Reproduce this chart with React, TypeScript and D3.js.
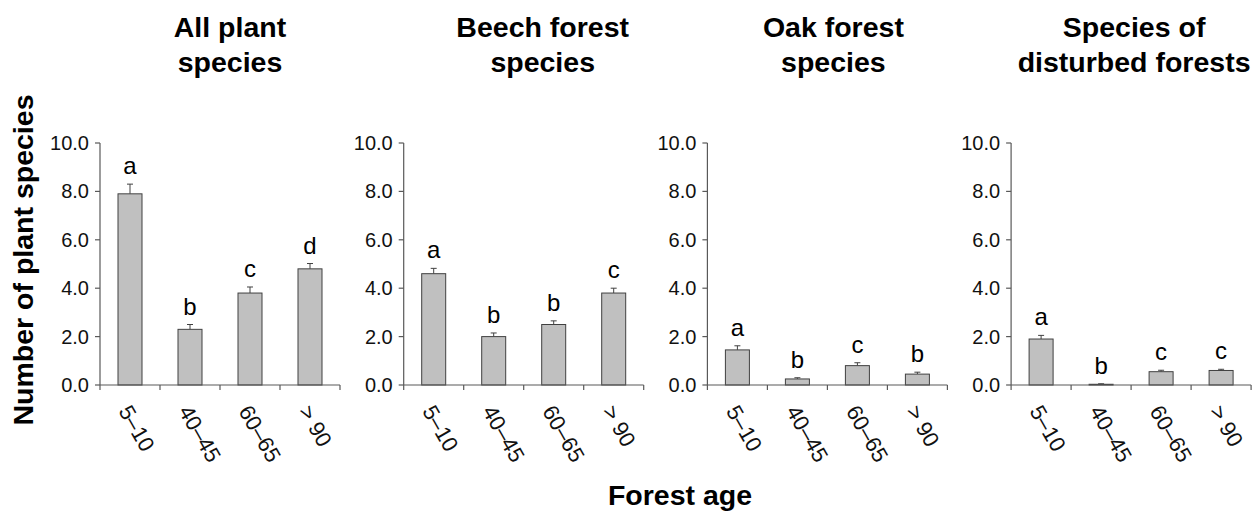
import React from 'react';
import * as d3 from 'd3';

// Forest age classes (years) on the x axis of every panel
const ageClasses = ['5–10', '40–45', '60–65', '> 90'];

// Panel headings, two lines each
const panelTitles = [
  ['All plant', 'species'],
  ['Beech forest', 'species'],
  ['Oak forest', 'species'],
  ['Species of', 'disturbed forests'],
];

// Mean number of species per plot, standard error and significance group
const allSpecies = [7.9, 2.3, 3.8, 4.8];
const allSpeciesSE = [0.4, 0.2, 0.25, 0.22];
const allSpeciesGroups = ['a', 'b', 'c', 'd'];

const beechSpecies = [4.6, 2.0, 2.5, 3.8];
const beechSpeciesSE = [0.22, 0.15, 0.15, 0.2];
const beechSpeciesGroups = ['a', 'b', 'b', 'c'];

const oakSpecies = [1.45, 0.25, 0.8, 0.45];
const oakSpeciesSE = [0.17, 0.05, 0.12, 0.08];
const oakSpeciesGroups = ['a', 'b', 'c', 'b'];

const disturbedSpecies = [1.9, 0.03, 0.55, 0.6];
const disturbedSpeciesSE = [0.15, 0.02, 0.06, 0.05];
const disturbedSpeciesGroups = ['a', 'b', 'c', 'c'];

const yTicks = [0, 2, 4, 6, 8, 10];
const yMax = 10;

const panels = [
  { title: panelTitles[0], values: allSpecies, se: allSpeciesSE, groups: allSpeciesGroups },
  { title: panelTitles[1], values: beechSpecies, se: beechSpeciesSE, groups: beechSpeciesGroups },
  { title: panelTitles[2], values: oakSpecies, se: oakSpeciesSE, groups: oakSpeciesGroups },
  { title: panelTitles[3], values: disturbedSpecies, se: disturbedSpeciesSE, groups: disturbedSpeciesGroups },
];

// Layout
const W = 1257;
const H = 512;
const plotTop = 143;
const plotBottom = 385;
const plotWidth = 240;
const firstLeft = 100;
const panelStep = 303.7;
const titleShift = [10, 19, 6, 3];

const FONT = 'Arial, "Liberation Sans", Helvetica, sans-serif';
const AXIS = '#595959';
const BAR_FILL = '#c0c0c0';
const BAR_STROKE = '#404040';

const y = d3.scaleLinear().domain([0, yMax]).range([plotBottom, plotTop]);
const x = d3.scaleBand<string>().domain(ageClasses).range([0, plotWidth]).paddingInner(0.6).paddingOuter(0.3);
const step = plotWidth / ageClasses.length;

function Panel({ index }: { index: number }) {
  const p = panels[index];
  const left = firstLeft + index * panelStep;
  const titleX = plotWidth / 2 + titleShift[index];
  return (
    <g transform={`translate(${left},0)`}>
      {/* heading */}
      <text x={titleX} y={37} textAnchor="middle" fontFamily={FONT} fontWeight="bold" fontSize={28.5} fill="#000">
        {p.title[0]}
      </text>
      <text x={titleX} y={71.5} textAnchor="middle" fontFamily={FONT} fontWeight="bold" fontSize={28.5} fill="#000">
        {p.title[1]}
      </text>

      {/* bars, error whiskers and group letters */}
      {ageClasses.map((c, i) => {
        const bx = x(c)!;
        const bw = x.bandwidth();
        const cx = bx + bw / 2;
        const top = y(p.values[i]);
        const errTop = y(p.values[i] + p.se[i]);
        return (
          <g key={c}>
            <line x1={cx} x2={cx} y1={top} y2={errTop} stroke={BAR_STROKE} strokeWidth={1} />
            <line x1={cx - 3} x2={cx + 3} y1={errTop} y2={errTop} stroke={BAR_STROKE} strokeWidth={1} />
            <rect x={bx} y={top} width={bw} height={plotBottom - top} fill={BAR_FILL} stroke={BAR_STROKE} strokeWidth={1} />
            <text x={cx} y={errTop - 10} textAnchor="middle" fontFamily={FONT} fontSize={24} fill="#000">
              {p.groups[i]}
            </text>
          </g>
        );
      })}

      {/* y axis */}
      <line x1={0} x2={0} y1={plotTop} y2={plotBottom} stroke={AXIS} strokeWidth={1.2} />
      {yTicks.map((t) => (
        <g key={t}>
          <line x1={-5} x2={0} y1={y(t)} y2={y(t)} stroke={AXIS} strokeWidth={1.2} />
          <text x={-11} y={y(t)} dy="0.35em" textAnchor="end" fontFamily={FONT} fontSize={20} fill="#111">
            {d3.format('.1f')(t)}
          </text>
        </g>
      ))}

      {/* x axis */}
      <line x1={0} x2={plotWidth} y1={plotBottom} y2={plotBottom} stroke={AXIS} strokeWidth={1.2} />
      {d3.range(ageClasses.length + 1).map((k) => (
        <line key={k} x1={k * step} x2={k * step} y1={plotBottom} y2={plotBottom + 5} stroke={AXIS} strokeWidth={1.2} />
      ))}
      {ageClasses.map((c) => {
        const cx = x(c)! + x.bandwidth() / 2;
        return (
          <text
            key={c}
            transform={`translate(${cx - 12},${411}) rotate(60)`}
            textAnchor="start"
            fontFamily={FONT}
            fontSize={22}
            fill="#111"
          >
            {c}
          </text>
        );
      })}
    </g>
  );
}

export default function App() {
  return (
    <svg
      width={W}
      height={H}
      viewBox={`0 0 ${W} ${H}`}
      style={{ position: 'absolute', left: 0, top: 0, background: '#fff' }}
    >
      <rect width={W} height={H} fill="#fff" />
      <text
        transform={`translate(33,260) rotate(-90)`}
        textAnchor="middle"
        fontFamily={FONT}
        fontWeight="bold"
        fontSize={28.5}
        fill="#000"
      >
        Number of plant species
      </text>
      {panels.map((_, i) => (
        <Panel key={i} index={i} />
      ))}
      <text x={680} y={505} textAnchor="middle" fontFamily={FONT} fontWeight="bold" fontSize={28.5} fill="#000">
        Forest age
      </text>
    </svg>
  );
}
